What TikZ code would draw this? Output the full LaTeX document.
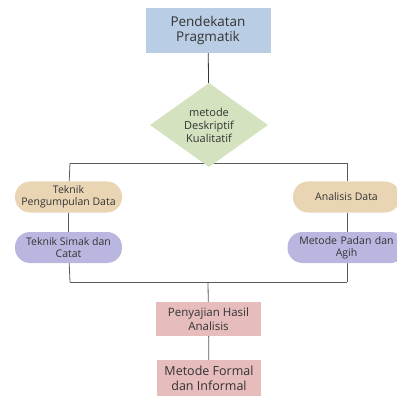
\documentclass[tikz,border=0pt]{standalone}
\usepackage{fontspec}
\setmainfont{Open Sans}
\usetikzlibrary{positioning}
\usetikzlibrary{shapes.geometric}
\usetikzlibrary{backgrounds}
\tikzset{box/.style = {rectangle, align=center, inner sep=0, text=black!80}}
\tikzset{pill/.style = {rectangle, rounded corners=15pt, align=center, inner sep=0,
                        minimum width=107pt, minimum height=31pt, text=black!80,
                        font=\fontsize{10.5}{12}\selectfont}}
\tikzset{link/.style = {draw=black!65, line width=0.8pt}}
\definecolor{mblue}{HTML}{B9CDE4}
\definecolor{mgreen}{HTML}{D4E2BF}
\definecolor{mtan}{HTML}{E9D5B4}
\definecolor{mlav}{HTML}{B9B7E0}
\definecolor{mpink}{HTML}{E6BCBC}

\begin{document}
\begin{tikzpicture}[x=1pt, y=-1pt]
    \useasboundingbox (0, 0) rectangle (397, 396);
    \clip (0, 0) rectangle (397, 396);

    \node [box, fill=mblue, minimum width=125pt, minimum height=45pt,
           font=\fontsize{13.5}{15.5}\selectfont] (prag) at (208, 30.5) {Pendekatan\\Pragmatik};
    \node [diamond, fill=mgreen, inner sep=0, minimum width=118pt, minimum height=76pt,
           align=center, text=black!80, font=\fontsize{11}{13}\selectfont]
           (desk) at (209, 125) {metode\\Deskriptif\\Kualitatif};

    \node [pill, fill=mtan] (kumpul) at (68.5, 197) {Teknik\\Pengumpulan Data};
    \node [pill, fill=mlav] (simak) at (68.5, 247.5) {Teknik Simak dan\\Catat};
    \node [pill, fill=mtan] (anal) at (346.5, 197) {Analisis Data};
    \node [pill, fill=mlav, text width=118pt] (padan) at (346.5, 247.5) {Metode Padan dan\\Agih};

    \node [box, fill=mpink, minimum width=105pt, minimum height=34pt,
           font=\fontsize{11.5}{14.5}\selectfont] (saji) at (208.5, 319) {Penyajian Hasil\\Analisis};
    \node [box, fill=mpink, minimum width=104pt, minimum height=36pt,
           font=\fontsize{12.5}{15}\selectfont] (formal) at (209, 378) {Metode Formal\\dan Informal};

    \coordinate (tl) at (70, 163);
    \coordinate (tr) at (347, 163);
    \coordinate (bl) at (70, 282);
    \coordinate (br) at (347, 282);
    \coordinate (bm) at (208, 282);

    \begin{scope}[on background layer]
      \draw [link, draw=black!80] (prag) -- (desk);
      \draw [link] (tl) -- (tr);
      \draw [link] (tl) -- (kumpul) -- (simak) -- (bl);
      \draw [link] (tr) -- (anal.north -| tr) (anal.south -| tr) -- (padan.north -| tr)
                   (padan.south -| tr) -- (br);
      \draw [link] (bl) -- (br);
      \draw [link] (bm) -- (saji);
      \draw [link] (saji) -- (formal);
    \end{scope}
\end{tikzpicture}
\end{document}
